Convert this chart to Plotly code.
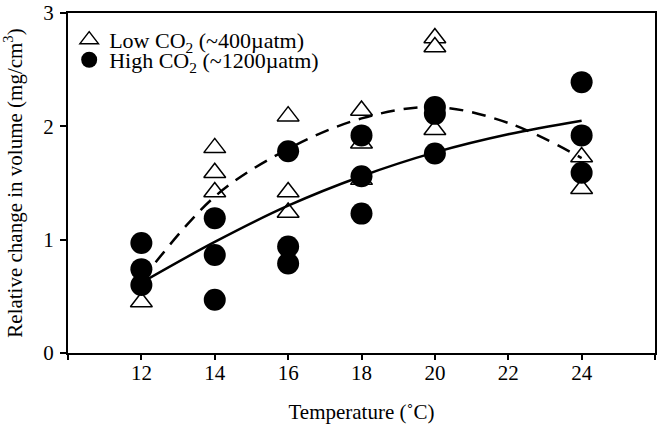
import plotly.graph_objects as go

# Low CO2 (~400 µatm) observations
low_temp = [12, 14, 14, 14, 16, 16, 16, 18, 18, 18, 20, 20, 20, 24, 24]
low_vol = [0.45, 1.81, 1.59, 1.42, 2.09, 1.42, 1.24, 2.14, 1.85, 1.53, 2.78, 2.70, 1.97, 1.73, 1.45]

# High CO2 (~1200 µatm) observations
high_temp = [12, 12, 12, 14, 14, 14, 16, 16, 16, 18, 18, 18, 20, 20, 20, 24, 24, 24]
high_vol = [0.97, 0.74, 0.60, 1.19, 0.865, 0.47, 1.78, 0.94, 0.79, 1.92, 1.56, 1.23, 2.17, 2.11, 1.76, 2.39, 1.92, 1.59]

# Fitted trend curves
fit_temp = [12, 14, 16, 18, 20, 22, 24]
fit_low = [0.64, 1.38, 1.80, 2.07, 2.17, 2.03, 1.72]
fit_high = [0.62, 0.98, 1.30, 1.56, 1.77, 1.93, 2.05]

x_tickvals = [10, 12, 14, 16, 18, 20, 22, 24, 26]
x_ticktext = ["", "12", "14", "16", "18", "20", "22", "24", ""]
y_tickvals = [0, 1, 2, 3]

FONT = "Liberation Serif, Times New Roman, serif"

fig = go.Figure()
fig.add_trace(go.Scatter(
    x=low_temp, y=low_vol, mode="markers", name="Low CO<sub>2</sub> (~400µatm)",
    legend="legend",
    marker=dict(symbol="triangle-up", size=19, color="white",
                line=dict(color="black", width=1.5)),
))
fig.add_trace(go.Scatter(
    x=high_temp, y=high_vol, mode="markers", name="High CO<sub>2</sub> (~1200µatm)",
    legend="legend2",
    marker=dict(symbol="circle", size=22, color="black",
                line=dict(color="black", width=0)),
))
fig.add_trace(go.Scatter(
    x=fit_temp, y=fit_low, mode="lines", showlegend=False,
    line=dict(color="black", width=2.5, dash="14px,9px", shape="spline", smoothing=1.0),
))
fig.add_trace(go.Scatter(
    x=fit_temp, y=fit_high, mode="lines", showlegend=False,
    line=dict(color="black", width=2.5, shape="spline", smoothing=1.0),
))

legend_common = dict(xanchor="left", yanchor="middle", bgcolor="rgba(0,0,0,0)",
                     font=dict(size=22, family=FONT), itemwidth=30)

fig.update_layout(
    width=664, height=432,
    margin=dict(l=68, r=9, t=13, b=79),
    paper_bgcolor="white", plot_bgcolor="white",
    font=dict(family=FONT, size=21, color="black"),
    showlegend=True,
    legend=dict(x=0.002, y=0.921, **legend_common),
    legend2=dict(x=0.002, y=0.862, **legend_common),
    xaxis=dict(range=[10, 26], tickvals=x_tickvals, ticktext=x_ticktext,
               showgrid=False, zeroline=False, showline=True, linecolor="black",
               linewidth=2, mirror=True, ticks="outside", ticklen=5, tickwidth=2,
               tickcolor="black", tickfont=dict(size=21, family=FONT),
               automargin=False, ticklabelstandoff=-5,
               title=dict(text="Temperature (˚C)", font=dict(size=21, family=FONT), standoff=20)),
    yaxis=dict(range=[0, 3], tickvals=y_tickvals,
               showgrid=False, zeroline=False, showline=True, linecolor="black",
               linewidth=2, mirror=True, ticks="outside", ticklen=6, tickwidth=2,
               tickcolor="black", tickfont=dict(size=21, family=FONT),
               automargin=False, ticklabelstandoff=2,
               title=dict(text="Relative change in volume (mg/cm<sup>3</sup>)",
                          font=dict(size=21, family=FONT), standoff=16)),
)

fig.write_html("out.html", config={"displayModeBar": False},
               post_script="document.body.style.margin='0';")
